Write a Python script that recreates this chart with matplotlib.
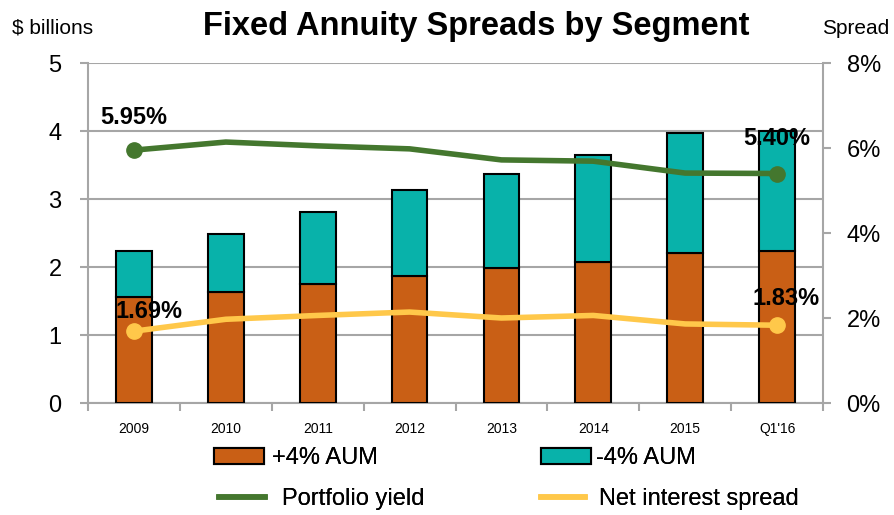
import numpy as np
import matplotlib
matplotlib.use("Agg")
from matplotlib import pyplot as plt
from matplotlib.patches import Patch
from matplotlib.lines import Line2D

plt.rcParams['font.family'] = ['Liberation Sans Narrow', 'Liberation Sans', 'DejaVu Sans']

# data
categories = ["2009", "2010", "2011", "2012", "2013", "2014", "2015", "Q1'16"]
aum_plus4 = [1.56, 1.63, 1.75, 1.87, 1.99, 2.07, 2.21, 2.24]
aum_minus4 = [0.68, 0.86, 1.06, 1.26, 1.38, 1.58, 1.76, 1.76]
portfolio_yield = [5.95, 6.14, 6.05, 5.98, 5.72, 5.69, 5.41, 5.40]
net_spread = [1.69, 1.97, 2.06, 2.14, 2.00, 2.06, 1.86, 1.83]

c_orange = "#C95F15"
c_teal = "#08B2AA"
c_green = "#44772E"
c_yellow = "#FFC84A"
c_grid = "#A6A6A6"

fig = plt.figure(figsize=(8.94, 5.15), dpi=100)
ax = fig.add_axes([88/894, 1-403/515, (823-88)/894, 340/515])
x = np.arange(len(categories))

ax.bar(x, aum_plus4, width=0.39, color=c_orange, edgecolor="black", linewidth=1.5, zorder=3)
ax.bar(x, aum_minus4, width=0.39, bottom=aum_plus4, color=c_teal, edgecolor="black", linewidth=1.5, zorder=3)
ax.set_xlim(-0.5, len(categories)-0.5)
ax.set_ylim(0, 5)
ax.set_yticks(range(6))
ax.yaxis.grid(True, color=c_grid, linewidth=1.5, zorder=0)
ax.set_xticks(x)
ax.set_xticklabels(categories, fontsize=10, family=['Liberation Sans', 'DejaVu Sans'])
ax.set_xticks(np.arange(-0.5, len(categories)), minor=True)
ax.tick_params(axis='x', which='major', length=0, pad=14)
ax.tick_params(axis='x', which='minor', length=6, color=c_grid, width=1.5)
ax.tick_params(axis='y', labelsize=17, length=6, color=c_grid, width=1.5, pad=13)
for s in ["top", "right"]:
    ax.spines[s].set_visible(False)
for s in ["left", "bottom"]:
    ax.spines[s].set_color(c_grid)
    ax.spines[s].set_linewidth(1.5)

ax2 = ax.twinx()
ax2.set_ylim(0, 8)
ax2.set_yticks([0, 2, 4, 6, 8])
ax2.set_yticklabels(["0%", "2%", "4%", "6%", "8%"])
ax2.tick_params(axis='y', labelsize=17, length=6, color=c_grid, width=1.5, pad=11)
for s in ["top", "left", "bottom"]:
    ax2.spines[s].set_visible(False)
ax2.spines["right"].set_color(c_grid)
ax2.spines["right"].set_linewidth(1.5)

ax2.plot(x, portfolio_yield, color=c_green, linewidth=4, zorder=4)
ax2.plot(x, net_spread, color=c_yellow, linewidth=4, zorder=4)
ax2.plot([x[0], x[-1]], [portfolio_yield[0], portfolio_yield[-1]], "o", color=c_green, markersize=11, zorder=5)
ax2.plot([x[0], x[-1]], [net_spread[0], net_spread[-1]], "o", color=c_yellow, markersize=11, zorder=5)

lbl = dict(fontsize=17, fontweight="bold", ha="center", va="bottom", zorder=6)
ax2.text(x[0], portfolio_yield[0] + 0.5, "5.95%", **lbl)
ax2.text(x[0] + 0.16, net_spread[0] + 0.2, "1.69%", **lbl)
ax2.text(x[-1] + 0.0, portfolio_yield[-1] + 0.55, "5.40%", **lbl)
ax2.text(x[-1] + 0.1, net_spread[-1] + 0.35, "1.83%", **lbl)

fig.text(476/894, 1-26/515, "Fixed Annuity Spreads by Segment", fontsize=23.5, fontweight="bold",
         ha="center", va="center")
fig.text(12/894, 1-28/515, "$ billions", fontsize=15, ha="left", va="center")
fig.text(822/894, 1-28/515, "Spread", fontsize=15, ha="left", va="center")

legend_items = [
    (Patch(facecolor=c_orange, edgecolor="black", linewidth=1.5, label="+4% AUM"), 214, 458, 2.12, 0.34),
    (Patch(facecolor=c_teal, edgecolor="black", linewidth=1.5, label="-4% AUM"), 541, 458, 2.12, 0.2),
    (Line2D([], [], color=c_green, linewidth=4, label="Portfolio yield"), 219, 499, 1.95, 0.7),
    (Line2D([], [], color=c_yellow, linewidth=4, label="Net interest spread"), 541, 499, 1.85, 0.6),
]
for h, lx, ly, hl, tp in legend_items:
    leg = fig.legend(handles=[h], loc="center left", bbox_to_anchor=(lx/894, 1-ly/515),
                     frameon=False, fontsize=17, handlelength=hl, handleheight=0.64,
                     handletextpad=tp, borderpad=0, borderaxespad=0)
    fig.add_artist(leg)

fig.savefig("out.png", dpi=100)
